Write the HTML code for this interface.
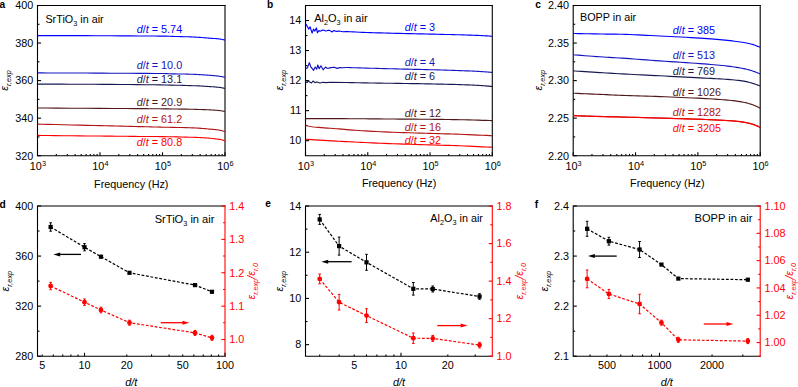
<!DOCTYPE html>
<html><head><meta charset="utf-8"><style>
html,body{margin:0;padding:0;background:#fff;}
body{width:798px;height:387px;overflow:hidden;}
svg{display:block;font-family:"Liberation Sans",sans-serif;}
</style></head><body>
<svg width="798" height="387" viewBox="0 0 798 387">
<rect width="798" height="387" fill="#fff"/>
<path d="M225,5.5 L37.5,5.5 L37.5,155.7 L225,155.7" fill="none" stroke="#000" stroke-width="1.1" stroke-linecap="square"/>
<line x1="225" y1="5.5" x2="225" y2="155.7" stroke="#000" stroke-width="1.1" stroke-linecap="square"/>
<line x1="37.5" y1="155.7" x2="41.1" y2="155.7" stroke="#000" stroke-width="1.1" />
<text x="33.2" y="159.5" font-size="10.8" fill="#000" text-anchor="end" >320</text>
<line x1="37.5" y1="118.15" x2="41.1" y2="118.15" stroke="#000" stroke-width="1.1" />
<text x="33.2" y="121.95" font-size="10.8" fill="#000" text-anchor="end" >340</text>
<line x1="37.5" y1="80.6" x2="41.1" y2="80.6" stroke="#000" stroke-width="1.1" />
<text x="33.2" y="84.4" font-size="10.8" fill="#000" text-anchor="end" >360</text>
<line x1="37.5" y1="43.05" x2="41.1" y2="43.05" stroke="#000" stroke-width="1.1" />
<text x="33.2" y="46.85" font-size="10.8" fill="#000" text-anchor="end" >380</text>
<line x1="37.5" y1="5.5" x2="41.1" y2="5.5" stroke="#000" stroke-width="1.1" />
<text x="33.2" y="9.3" font-size="10.8" fill="#000" text-anchor="end" >400</text>
<line x1="37.5" y1="136.92" x2="39.5" y2="136.92" stroke="#000" stroke-width="1.1" />
<line x1="37.5" y1="99.38" x2="39.5" y2="99.38" stroke="#000" stroke-width="1.1" />
<line x1="37.5" y1="61.82" x2="39.5" y2="61.82" stroke="#000" stroke-width="1.1" />
<line x1="37.5" y1="24.28" x2="39.5" y2="24.28" stroke="#000" stroke-width="1.1" />
<line x1="37.5" y1="155.7" x2="37.5" y2="152.3" stroke="#000" stroke-width="1.1" />
<line x1="100" y1="155.7" x2="100" y2="152.3" stroke="#000" stroke-width="1.1" />
<line x1="162.5" y1="155.7" x2="162.5" y2="152.3" stroke="#000" stroke-width="1.1" />
<line x1="225" y1="155.7" x2="225" y2="152.3" stroke="#000" stroke-width="1.1" />
<line x1="56.31" y1="155.7" x2="56.31" y2="153.9" stroke="#000" stroke-width="1.1" />
<line x1="67.32" y1="155.7" x2="67.32" y2="153.9" stroke="#000" stroke-width="1.1" />
<line x1="75.13" y1="155.7" x2="75.13" y2="153.9" stroke="#000" stroke-width="1.1" />
<line x1="81.19" y1="155.7" x2="81.19" y2="153.9" stroke="#000" stroke-width="1.1" />
<line x1="86.13" y1="155.7" x2="86.13" y2="153.9" stroke="#000" stroke-width="1.1" />
<line x1="90.32" y1="155.7" x2="90.32" y2="153.9" stroke="#000" stroke-width="1.1" />
<line x1="93.94" y1="155.7" x2="93.94" y2="153.9" stroke="#000" stroke-width="1.1" />
<line x1="97.14" y1="155.7" x2="97.14" y2="153.9" stroke="#000" stroke-width="1.1" />
<line x1="118.81" y1="155.7" x2="118.81" y2="153.9" stroke="#000" stroke-width="1.1" />
<line x1="129.82" y1="155.7" x2="129.82" y2="153.9" stroke="#000" stroke-width="1.1" />
<line x1="137.63" y1="155.7" x2="137.63" y2="153.9" stroke="#000" stroke-width="1.1" />
<line x1="143.69" y1="155.7" x2="143.69" y2="153.9" stroke="#000" stroke-width="1.1" />
<line x1="148.63" y1="155.7" x2="148.63" y2="153.9" stroke="#000" stroke-width="1.1" />
<line x1="152.82" y1="155.7" x2="152.82" y2="153.9" stroke="#000" stroke-width="1.1" />
<line x1="156.44" y1="155.7" x2="156.44" y2="153.9" stroke="#000" stroke-width="1.1" />
<line x1="159.64" y1="155.7" x2="159.64" y2="153.9" stroke="#000" stroke-width="1.1" />
<line x1="181.31" y1="155.7" x2="181.31" y2="153.9" stroke="#000" stroke-width="1.1" />
<line x1="192.32" y1="155.7" x2="192.32" y2="153.9" stroke="#000" stroke-width="1.1" />
<line x1="200.13" y1="155.7" x2="200.13" y2="153.9" stroke="#000" stroke-width="1.1" />
<line x1="206.19" y1="155.7" x2="206.19" y2="153.9" stroke="#000" stroke-width="1.1" />
<line x1="211.13" y1="155.7" x2="211.13" y2="153.9" stroke="#000" stroke-width="1.1" />
<line x1="215.32" y1="155.7" x2="215.32" y2="153.9" stroke="#000" stroke-width="1.1" />
<line x1="218.94" y1="155.7" x2="218.94" y2="153.9" stroke="#000" stroke-width="1.1" />
<line x1="222.14" y1="155.7" x2="222.14" y2="153.9" stroke="#000" stroke-width="1.1" />
<text x="37.9" y="170.2" font-size="10.8" text-anchor="middle">10<tspan font-size="7.3" dy="-4.6">3</tspan></text>
<text x="100.4" y="170.2" font-size="10.8" text-anchor="middle">10<tspan font-size="7.3" dy="-4.6">4</tspan></text>
<text x="162.9" y="170.2" font-size="10.8" text-anchor="middle">10<tspan font-size="7.3" dy="-4.6">5</tspan></text>
<text x="225.4" y="170.2" font-size="10.8" text-anchor="middle">10<tspan font-size="7.3" dy="-4.6">6</tspan></text>
<text x="131.25" y="187.5" font-size="10.8" fill="#000" text-anchor="middle" >Frequency (Hz)</text>
<text transform="translate(8.4,80.5) rotate(-90)" x="0" y="0" font-size="10.8" fill="#000" text-anchor="middle"><tspan font-style="italic">&#949;</tspan><tspan font-size="7.3" font-style="italic" dy="3.0">r,exp</tspan></text>
<text x="-0.6" y="7.6" font-size="10.2" font-weight="bold">a</text>
<text x="45.4" y="22.6" font-size="10.8">SrTiO<tspan font-size="7.3" dy="3.0">3</tspan><tspan dy="-3.0"> in air</tspan></text>
<path d="M37.5,35.6 L41.79,35.61 L47.43,35.61 L54.13,35.62 L61.62,35.63 L69.63,35.64 L77.88,35.65 L86.1,35.67 L94,35.7 L102.18,35.74 L111.14,35.78 L120.52,35.84 L129.91,35.89 L138.93,35.95 L147.21,36.01 L154.36,36.06 L160,36.1 L163.84,36.13 L166.13,36.15 L167.28,36.17 L167.69,36.18 L167.76,36.2 L167.9,36.22 L168.51,36.25 L170,36.3 L172.3,36.36 L175,36.43 L177.98,36.51 L181.12,36.59 L184.32,36.69 L187.44,36.79 L190.37,36.89 L193,37 L195.37,37.12 L197.62,37.25 L199.75,37.39 L201.78,37.54 L203.7,37.68 L205.54,37.83 L207.31,37.97 L209,38.1 L210.62,38.22 L212.15,38.33 L213.6,38.44 L214.96,38.55 L216.24,38.66 L217.44,38.77 L218.56,38.88 L219.6,39 L220.56,39.14 L221.44,39.29 L222.24,39.45 L222.96,39.61 L223.6,39.76 L224.15,39.9 L224.62,40.01 L225,40.1" fill="none" stroke="#0000ff" stroke-width="1.1" stroke-linejoin="round" />
<text x="136.8" y="32.9" font-size="10.8" fill="#0000ff"><tspan font-style="italic">d</tspan>/<tspan font-style="italic">t</tspan> = 5.74</text>
<path d="M37.5,72.9 L41.79,72.91 L47.43,72.93 L54.13,72.95 L61.62,72.97 L69.63,73 L77.88,73.03 L86.1,73.06 L94,73.1 L102.18,73.14 L111.14,73.19 L120.52,73.24 L129.91,73.29 L138.93,73.35 L147.21,73.4 L154.36,73.45 L160,73.5 L163.84,73.54 L166.13,73.58 L167.28,73.61 L167.69,73.64 L167.76,73.68 L167.9,73.71 L168.51,73.75 L170,73.8 L172.3,73.85 L175,73.9 L177.98,73.95 L181.12,74.01 L184.32,74.07 L187.44,74.14 L190.37,74.21 L193,74.3 L195.37,74.4 L197.62,74.51 L199.75,74.64 L201.78,74.77 L203.7,74.9 L205.54,75.04 L207.31,75.17 L209,75.3 L210.62,75.42 L212.15,75.55 L213.6,75.67 L214.96,75.8 L216.24,75.92 L217.44,76.05 L218.56,76.17 L219.6,76.3 L220.56,76.43 L221.44,76.57 L222.24,76.72 L222.96,76.86 L223.6,77 L224.15,77.12 L224.62,77.22 L225,77.3" fill="none" stroke="#1414c0" stroke-width="1.1" stroke-linejoin="round" />
<text x="136.8" y="68.9" font-size="10.8" fill="#1414c0"><tspan font-style="italic">d</tspan>/<tspan font-style="italic">t</tspan> = 10.0</text>
<path d="M37.5,84.1 L41.79,84.11 L47.43,84.13 L54.13,84.14 L61.62,84.16 L69.63,84.19 L77.88,84.22 L86.1,84.25 L94,84.3 L102.02,84.35 L110.61,84.42 L119.5,84.49 L128.47,84.56 L137.25,84.64 L145.6,84.73 L153.26,84.81 L160,84.9 L165.81,84.99 L170.95,85.08 L175.5,85.18 L179.56,85.28 L183.25,85.38 L186.65,85.49 L189.87,85.59 L193,85.7 L195.94,85.81 L198.55,85.92 L200.87,86.03 L202.96,86.15 L204.87,86.27 L206.65,86.38 L208.34,86.49 L210,86.6 L211.58,86.7 L213.02,86.8 L214.33,86.89 L215.52,86.99 L216.63,87.08 L217.67,87.18 L218.65,87.29 L219.6,87.4 L220.51,87.53 L221.37,87.68 L222.17,87.84 L222.9,88 L223.56,88.15 L224.13,88.3 L224.61,88.41 L225,88.5" fill="none" stroke="#181850" stroke-width="1.1" stroke-linejoin="round" />
<text x="136.8" y="82.7" font-size="10.8" fill="#181850"><tspan font-style="italic">d</tspan>/<tspan font-style="italic">t</tspan> = 13.1</text>
<path d="M37.5,108 L45.52,108.05 L56.72,108.12 L70.11,108.2 L84.69,108.29 L99.46,108.38 L113.44,108.46 L125.62,108.54 L135,108.6 L141.54,108.64 L146.16,108.67 L149.33,108.69 L151.53,108.71 L153.23,108.72 L154.89,108.74 L156.99,108.76 L160,108.8 L163.85,108.85 L168.06,108.9 L172.49,108.96 L177,109.02 L181.45,109.09 L185.69,109.16 L189.59,109.23 L193,109.3 L195.94,109.37 L198.55,109.44 L200.87,109.51 L202.96,109.59 L204.87,109.66 L206.65,109.74 L208.34,109.82 L210,109.9 L211.58,109.98 L213.02,110.06 L214.33,110.15 L215.52,110.23 L216.63,110.32 L217.67,110.41 L218.65,110.5 L219.6,110.6 L220.51,110.71 L221.37,110.83 L222.17,110.96 L222.9,111.09 L223.56,111.22 L224.13,111.33 L224.61,111.43 L225,111.5" fill="none" stroke="#501818" stroke-width="1.1" stroke-linejoin="round" />
<text x="136.8" y="105.6" font-size="10.8" fill="#501818"><tspan font-style="italic">d</tspan>/<tspan font-style="italic">t</tspan> = 20.9</text>
<path d="M37.5,124.1 L41.96,124.21 L48.02,124.36 L55.23,124.54 L63.19,124.74 L71.46,124.94 L79.64,125.15 L87.29,125.33 L94,125.5 L99.98,125.65 L105.71,125.79 L111.21,125.92 L116.47,126.05 L121.48,126.17 L126.24,126.29 L130.75,126.4 L135,126.5 L138.84,126.59 L142.19,126.67 L145.2,126.75 L148,126.81 L150.74,126.88 L153.56,126.95 L156.6,127.02 L160,127.1 L163.85,127.19 L168.06,127.28 L172.49,127.37 L177,127.46 L181.45,127.56 L185.69,127.67 L189.59,127.78 L193,127.9 L195.94,128.03 L198.55,128.17 L200.87,128.33 L202.96,128.48 L204.87,128.64 L206.65,128.8 L208.34,128.95 L210,129.1 L211.58,129.24 L213.02,129.38 L214.33,129.51 L215.52,129.64 L216.63,129.77 L217.67,129.91 L218.65,130.05 L219.6,130.2 L220.51,130.37 L221.37,130.56 L222.17,130.76 L222.9,130.97 L223.56,131.16 L224.13,131.34 L224.61,131.49 L225,131.6" fill="none" stroke="#b01414" stroke-width="1.1" stroke-linejoin="round" />
<text x="136.8" y="123.3" font-size="10.8" fill="#b01414"><tspan font-style="italic">d</tspan>/<tspan font-style="italic">t</tspan> = 61.2</text>
<path d="M37.5,135.4 L41.96,135.45 L48.02,135.51 L55.23,135.59 L63.19,135.68 L71.46,135.76 L79.64,135.85 L87.29,135.93 L94,136 L99.98,136.06 L105.71,136.12 L111.21,136.17 L116.47,136.22 L121.48,136.27 L126.24,136.32 L130.75,136.36 L135,136.4 L138.84,136.43 L142.19,136.45 L145.2,136.47 L148,136.48 L150.74,136.5 L153.56,136.52 L156.6,136.55 L160,136.6 L163.85,136.66 L168.06,136.73 L172.49,136.81 L177,136.9 L181.45,136.99 L185.69,137.09 L189.59,137.19 L193,137.3 L195.94,137.41 L198.55,137.53 L200.87,137.65 L202.96,137.78 L204.87,137.9 L206.65,138.04 L208.34,138.17 L210,138.3 L211.58,138.43 L213.02,138.56 L214.33,138.69 L215.52,138.83 L216.63,138.96 L217.67,139.1 L218.65,139.25 L219.6,139.4 L220.51,139.57 L221.37,139.76 L222.17,139.96 L222.9,140.17 L223.56,140.36 L224.13,140.54 L224.61,140.69 L225,140.8" fill="none" stroke="#ff0000" stroke-width="1.1" stroke-linejoin="round" />
<text x="136.8" y="146.0" font-size="10.8" fill="#ff0000"><tspan font-style="italic">d</tspan>/<tspan font-style="italic">t</tspan> = 80.8</text>
<path d="M492.3,5.5 L305.5,5.5 L305.5,155.7 L492.3,155.7" fill="none" stroke="#000" stroke-width="1.1" stroke-linecap="square"/>
<line x1="492.3" y1="5.5" x2="492.3" y2="155.7" stroke="#000" stroke-width="1.1" stroke-linecap="square"/>
<line x1="305.5" y1="140.68" x2="309.1" y2="140.68" stroke="#000" stroke-width="1.1" />
<text x="301.2" y="144.48" font-size="10.8" fill="#000" text-anchor="end" >10</text>
<line x1="305.5" y1="110.64" x2="309.1" y2="110.64" stroke="#000" stroke-width="1.1" />
<text x="301.2" y="114.44" font-size="10.8" fill="#000" text-anchor="end" >11</text>
<line x1="305.5" y1="80.6" x2="309.1" y2="80.6" stroke="#000" stroke-width="1.1" />
<text x="301.2" y="84.4" font-size="10.8" fill="#000" text-anchor="end" >12</text>
<line x1="305.5" y1="50.56" x2="309.1" y2="50.56" stroke="#000" stroke-width="1.1" />
<text x="301.2" y="54.36" font-size="10.8" fill="#000" text-anchor="end" >13</text>
<line x1="305.5" y1="20.52" x2="309.1" y2="20.52" stroke="#000" stroke-width="1.1" />
<text x="301.2" y="24.32" font-size="10.8" fill="#000" text-anchor="end" >14</text>
<line x1="305.5" y1="125.66" x2="307.5" y2="125.66" stroke="#000" stroke-width="1.1" />
<line x1="305.5" y1="95.62" x2="307.5" y2="95.62" stroke="#000" stroke-width="1.1" />
<line x1="305.5" y1="65.58" x2="307.5" y2="65.58" stroke="#000" stroke-width="1.1" />
<line x1="305.5" y1="35.54" x2="307.5" y2="35.54" stroke="#000" stroke-width="1.1" />
<line x1="305.5" y1="5.5" x2="307.5" y2="5.5" stroke="#000" stroke-width="1.1" />
<line x1="305.5" y1="155.7" x2="305.5" y2="152.3" stroke="#000" stroke-width="1.1" />
<line x1="367.77" y1="155.7" x2="367.77" y2="152.3" stroke="#000" stroke-width="1.1" />
<line x1="430.03" y1="155.7" x2="430.03" y2="152.3" stroke="#000" stroke-width="1.1" />
<line x1="492.3" y1="155.7" x2="492.3" y2="152.3" stroke="#000" stroke-width="1.1" />
<line x1="324.24" y1="155.7" x2="324.24" y2="153.9" stroke="#000" stroke-width="1.1" />
<line x1="335.21" y1="155.7" x2="335.21" y2="153.9" stroke="#000" stroke-width="1.1" />
<line x1="342.99" y1="155.7" x2="342.99" y2="153.9" stroke="#000" stroke-width="1.1" />
<line x1="349.02" y1="155.7" x2="349.02" y2="153.9" stroke="#000" stroke-width="1.1" />
<line x1="353.95" y1="155.7" x2="353.95" y2="153.9" stroke="#000" stroke-width="1.1" />
<line x1="358.12" y1="155.7" x2="358.12" y2="153.9" stroke="#000" stroke-width="1.1" />
<line x1="361.73" y1="155.7" x2="361.73" y2="153.9" stroke="#000" stroke-width="1.1" />
<line x1="364.92" y1="155.7" x2="364.92" y2="153.9" stroke="#000" stroke-width="1.1" />
<line x1="386.51" y1="155.7" x2="386.51" y2="153.9" stroke="#000" stroke-width="1.1" />
<line x1="397.48" y1="155.7" x2="397.48" y2="153.9" stroke="#000" stroke-width="1.1" />
<line x1="405.25" y1="155.7" x2="405.25" y2="153.9" stroke="#000" stroke-width="1.1" />
<line x1="411.29" y1="155.7" x2="411.29" y2="153.9" stroke="#000" stroke-width="1.1" />
<line x1="416.22" y1="155.7" x2="416.22" y2="153.9" stroke="#000" stroke-width="1.1" />
<line x1="420.39" y1="155.7" x2="420.39" y2="153.9" stroke="#000" stroke-width="1.1" />
<line x1="424" y1="155.7" x2="424" y2="153.9" stroke="#000" stroke-width="1.1" />
<line x1="427.18" y1="155.7" x2="427.18" y2="153.9" stroke="#000" stroke-width="1.1" />
<line x1="448.78" y1="155.7" x2="448.78" y2="153.9" stroke="#000" stroke-width="1.1" />
<line x1="459.74" y1="155.7" x2="459.74" y2="153.9" stroke="#000" stroke-width="1.1" />
<line x1="467.52" y1="155.7" x2="467.52" y2="153.9" stroke="#000" stroke-width="1.1" />
<line x1="473.56" y1="155.7" x2="473.56" y2="153.9" stroke="#000" stroke-width="1.1" />
<line x1="478.49" y1="155.7" x2="478.49" y2="153.9" stroke="#000" stroke-width="1.1" />
<line x1="482.65" y1="155.7" x2="482.65" y2="153.9" stroke="#000" stroke-width="1.1" />
<line x1="486.27" y1="155.7" x2="486.27" y2="153.9" stroke="#000" stroke-width="1.1" />
<line x1="489.45" y1="155.7" x2="489.45" y2="153.9" stroke="#000" stroke-width="1.1" />
<text x="305.9" y="170.2" font-size="10.8" text-anchor="middle">10<tspan font-size="7.3" dy="-4.6">3</tspan></text>
<text x="368.17" y="170.2" font-size="10.8" text-anchor="middle">10<tspan font-size="7.3" dy="-4.6">4</tspan></text>
<text x="430.43" y="170.2" font-size="10.8" text-anchor="middle">10<tspan font-size="7.3" dy="-4.6">5</tspan></text>
<text x="492.7" y="170.2" font-size="10.8" text-anchor="middle">10<tspan font-size="7.3" dy="-4.6">6</tspan></text>
<text x="399.1" y="186.5" font-size="10.8" fill="#000" text-anchor="middle" >Frequency (Hz)</text>
<text transform="translate(283.4,80.2) rotate(-90)" x="0" y="0" font-size="10.8" fill="#000" text-anchor="middle"><tspan font-style="italic">&#949;</tspan><tspan font-size="7.3" font-style="italic" dy="3.0">r,exp</tspan></text>
<text x="267.1" y="7.6" font-size="10.2" font-weight="bold">b</text>
<text x="314.2" y="21.8" font-size="11.0">Al<tspan font-size="7.3" dy="3.0">2</tspan><tspan dy="-3.0">O</tspan><tspan font-size="7.3" dy="3.0">3</tspan><tspan dy="-3.0"> in air</tspan></text>
<path d="M305.6,24 L306.1,24.3 L307.3,26.5 L308.7,29.1 L310.1,26.8 L312.1,33.1 L313.5,29.1 L314.9,31.1 L316.4,28 L317.5,32.8 L318.9,30.5 L320.2,31.2 L321.2,30.8 L322.5,30 L324,30.2 L325.5,31 L326.9,30.8 L328.3,30.2 L329.7,30.4 L332,32 L334,30.4 L335.5,31.2 L337.1,31.4 L339,31 L342.8,31.7 L346,31.6 L347.81,31.68 L350.17,31.78 L352.98,31.91 L356.12,32.05 L359.51,32.2 L363.02,32.34 L366.55,32.48 L370,32.6 L373.46,32.71 L377.08,32.82 L380.81,32.92 L384.62,33.02 L388.49,33.12 L392.36,33.21 L396.21,33.31 L400,33.4 L403.75,33.49 L407.5,33.58 L411.25,33.67 L415,33.76 L418.75,33.84 L422.5,33.93 L426.25,34.01 L430,34.1 L433.82,34.19 L437.73,34.27 L441.69,34.36 L445.62,34.45 L449.48,34.54 L453.2,34.62 L456.73,34.71 L460,34.8 L463.03,34.89 L465.88,34.97 L468.57,35.06 L471.11,35.14 L473.5,35.23 L475.78,35.32 L477.94,35.41 L480,35.5 L481.99,35.6 L483.9,35.71 L485.72,35.83 L487.4,35.94 L488.93,36.05 L490.27,36.15 L491.4,36.24 L492.3,36.3" fill="none" stroke="#0000ff" stroke-width="1.15" stroke-linejoin="round" />
<text x="404.7" y="30.5" font-size="10.8" fill="#0000ff"><tspan font-style="italic">d</tspan>/<tspan font-style="italic">t</tspan> = 3</text>
<path d="M305.6,68.1 L307.3,68.1 L309.3,62.7 L311,67.2 L312.2,68.5 L313.5,70.4 L315.2,67 L316.7,69.2 L317.8,65 L319.2,68.7 L320.9,65.8 L323.2,69.8 L325.5,67 L327,68.3 L328.6,68.1 L331,67.6 L334.3,67.2 L337.1,68.4 L340,67.6 L343,67.8 L346,67.5 L347.81,67.55 L350.17,67.62 L352.98,67.71 L356.12,67.8 L359.51,67.9 L363.02,68 L366.55,68.1 L370,68.2 L373.46,68.3 L377.08,68.4 L380.81,68.5 L384.62,68.6 L388.49,68.7 L392.36,68.8 L396.21,68.9 L400,69 L403.75,69.09 L407.5,69.18 L411.25,69.26 L415,69.34 L418.75,69.43 L422.5,69.51 L426.25,69.6 L430,69.7 L433.82,69.8 L437.73,69.91 L441.69,70.02 L445.62,70.14 L449.48,70.25 L453.2,70.37 L456.73,70.49 L460,70.6 L463.03,70.71 L465.88,70.82 L468.57,70.94 L471.11,71.05 L473.5,71.16 L475.78,71.27 L477.94,71.39 L480,71.5 L481.99,71.62 L483.9,71.75 L485.72,71.88 L487.4,72.01 L488.93,72.13 L490.27,72.24 L491.4,72.33 L492.3,72.4" fill="none" stroke="#1414c0" stroke-width="1.15" stroke-linejoin="round" />
<text x="404.7" y="66.0" font-size="10.8" fill="#1414c0"><tspan font-style="italic">d</tspan>/<tspan font-style="italic">t</tspan> = 4</text>
<path d="M305.6,81.5 L307,82.6 L308.5,80.8 L310,82.3 L311.5,83 L313,81 L315,82.6 L317,82 L320,83 L323,82.2 L326,82.6 L330,82.3 L346,82.5 L347.81,82.54 L350.17,82.59 L352.98,82.66 L356.12,82.73 L359.51,82.8 L363.02,82.87 L366.55,82.94 L370,83 L373.46,83.05 L377.08,83.1 L380.81,83.15 L384.62,83.2 L388.49,83.25 L392.36,83.3 L396.21,83.35 L400,83.4 L403.75,83.46 L407.5,83.51 L411.25,83.57 L415,83.63 L418.75,83.69 L422.5,83.76 L426.25,83.83 L430,83.9 L433.82,83.98 L437.73,84.06 L441.69,84.14 L445.62,84.22 L449.48,84.31 L453.2,84.41 L456.73,84.5 L460,84.6 L463.03,84.7 L465.88,84.81 L468.57,84.92 L471.11,85.03 L473.5,85.15 L475.78,85.26 L477.94,85.38 L480,85.5 L481.99,85.63 L483.9,85.77 L485.72,85.91 L487.4,86.06 L488.93,86.19 L490.27,86.32 L491.4,86.42 L492.3,86.5" fill="none" stroke="#181850" stroke-width="1.15" stroke-linejoin="round" />
<text x="404.7" y="80.4" font-size="10.8" fill="#181850"><tspan font-style="italic">d</tspan>/<tspan font-style="italic">t</tspan> = 6</text>
<path d="M305.5,118.6 L308.97,118.61 L313.62,118.61 L319.17,118.62 L325.31,118.63 L331.76,118.64 L338.22,118.66 L344.4,118.68 L350,118.7 L355.12,118.73 L360.09,118.76 L364.94,118.8 L369.72,118.84 L374.47,118.88 L379.24,118.92 L384.07,118.96 L389,119 L394.1,119.04 L399.37,119.07 L404.71,119.11 L410.06,119.14 L415.34,119.18 L420.48,119.22 L425.39,119.26 L430,119.3 L434.26,119.34 L438.22,119.38 L441.95,119.42 L445.54,119.46 L449.06,119.51 L452.6,119.56 L456.22,119.63 L460,119.7 L464.15,119.79 L468.67,119.91 L473.36,120.04 L478.02,120.18 L482.45,120.31 L486.44,120.43 L489.79,120.53 L492.3,120.6" fill="none" stroke="#501818" stroke-width="1.15" stroke-linejoin="round" />
<text x="404.7" y="116.7" font-size="10.8" fill="#501818"><tspan font-style="italic">d</tspan>/<tspan font-style="italic">t</tspan> = 12</text>
<path d="M305.5,125.2 L306.06,125.34 L306.7,125.53 L307.46,125.75 L308.36,125.99 L309.43,126.25 L310.71,126.51 L312.22,126.77 L314,127 L316.13,127.22 L318.6,127.43 L321.35,127.64 L324.29,127.85 L327.33,128.06 L330.4,128.27 L333.42,128.48 L336.3,128.7 L339.03,128.92 L341.69,129.15 L344.31,129.38 L346.94,129.61 L349.64,129.84 L352.46,130.06 L355.42,130.28 L358.6,130.5 L361.94,130.71 L365.38,130.92 L368.94,131.13 L372.63,131.33 L376.47,131.53 L380.46,131.73 L384.64,131.92 L389,132.1 L393.69,132.28 L398.76,132.46 L404.08,132.63 L409.52,132.79 L414.96,132.95 L420.28,133.11 L425.33,133.26 L430,133.4 L434.26,133.53 L438.22,133.64 L441.95,133.74 L445.54,133.84 L449.06,133.94 L452.6,134.05 L456.22,134.17 L460,134.3 L464.15,134.46 L468.67,134.65 L473.36,134.85 L478.02,135.06 L482.45,135.26 L486.44,135.44 L489.79,135.59 L492.3,135.7" fill="none" stroke="#b01414" stroke-width="1.15" stroke-linejoin="round" />
<text x="404.7" y="131.0" font-size="10.8" fill="#b01414"><tspan font-style="italic">d</tspan>/<tspan font-style="italic">t</tspan> = 16</text>
<path d="M305.5,139.2 L307.91,139.35 L311.18,139.56 L315.08,139.81 L319.38,140.08 L323.84,140.36 L328.26,140.64 L332.39,140.89 L336,141.1 L339.1,141.27 L341.89,141.42 L344.48,141.56 L346.97,141.68 L349.46,141.8 L352.07,141.92 L354.88,142.05 L358,142.2 L361.38,142.36 L364.88,142.53 L368.53,142.71 L372.31,142.89 L376.25,143.07 L380.34,143.25 L384.58,143.43 L389,143.6 L393.72,143.77 L398.8,143.94 L404.13,144.11 L409.56,144.28 L414.99,144.45 L420.29,144.61 L425.33,144.76 L430,144.9 L434.26,145.03 L438.22,145.14 L441.95,145.24 L445.54,145.34 L449.06,145.44 L452.6,145.54 L456.22,145.66 L460,145.8 L464.15,145.97 L468.67,146.17 L473.36,146.38 L478.02,146.61 L482.45,146.82 L486.44,147.02 L489.79,147.18 L492.3,147.3" fill="none" stroke="#ff0000" stroke-width="1.15" stroke-linejoin="round" />
<text x="404.7" y="143.9" font-size="10.8" fill="#ff0000"><tspan font-style="italic">d</tspan>/<tspan font-style="italic">t</tspan> = 32</text>
<path d="M760.2,5.5 L573.2,5.5 L573.2,155.7 L760.2,155.7" fill="none" stroke="#000" stroke-width="1.1" stroke-linecap="square"/>
<line x1="760.2" y1="5.5" x2="760.2" y2="155.7" stroke="#000" stroke-width="1.1" stroke-linecap="square"/>
<line x1="573.2" y1="155.7" x2="576.8" y2="155.7" stroke="#000" stroke-width="1.1" />
<text x="568.9" y="159.5" font-size="10.8" fill="#000" text-anchor="end" >2.20</text>
<line x1="573.2" y1="118.15" x2="576.8" y2="118.15" stroke="#000" stroke-width="1.1" />
<text x="568.9" y="121.95" font-size="10.8" fill="#000" text-anchor="end" >2.25</text>
<line x1="573.2" y1="80.6" x2="576.8" y2="80.6" stroke="#000" stroke-width="1.1" />
<text x="568.9" y="84.4" font-size="10.8" fill="#000" text-anchor="end" >2.30</text>
<line x1="573.2" y1="43.05" x2="576.8" y2="43.05" stroke="#000" stroke-width="1.1" />
<text x="568.9" y="46.85" font-size="10.8" fill="#000" text-anchor="end" >2.35</text>
<line x1="573.2" y1="5.5" x2="576.8" y2="5.5" stroke="#000" stroke-width="1.1" />
<text x="568.9" y="9.3" font-size="10.8" fill="#000" text-anchor="end" >2.40</text>
<line x1="573.2" y1="136.93" x2="575.2" y2="136.93" stroke="#000" stroke-width="1.1" />
<line x1="573.2" y1="99.38" x2="575.2" y2="99.38" stroke="#000" stroke-width="1.1" />
<line x1="573.2" y1="61.82" x2="575.2" y2="61.82" stroke="#000" stroke-width="1.1" />
<line x1="573.2" y1="24.27" x2="575.2" y2="24.27" stroke="#000" stroke-width="1.1" />
<line x1="573.2" y1="155.7" x2="573.2" y2="152.3" stroke="#000" stroke-width="1.1" />
<line x1="635.53" y1="155.7" x2="635.53" y2="152.3" stroke="#000" stroke-width="1.1" />
<line x1="697.87" y1="155.7" x2="697.87" y2="152.3" stroke="#000" stroke-width="1.1" />
<line x1="760.2" y1="155.7" x2="760.2" y2="152.3" stroke="#000" stroke-width="1.1" />
<line x1="591.96" y1="155.7" x2="591.96" y2="153.9" stroke="#000" stroke-width="1.1" />
<line x1="602.94" y1="155.7" x2="602.94" y2="153.9" stroke="#000" stroke-width="1.1" />
<line x1="610.73" y1="155.7" x2="610.73" y2="153.9" stroke="#000" stroke-width="1.1" />
<line x1="616.77" y1="155.7" x2="616.77" y2="153.9" stroke="#000" stroke-width="1.1" />
<line x1="621.7" y1="155.7" x2="621.7" y2="153.9" stroke="#000" stroke-width="1.1" />
<line x1="625.88" y1="155.7" x2="625.88" y2="153.9" stroke="#000" stroke-width="1.1" />
<line x1="629.49" y1="155.7" x2="629.49" y2="153.9" stroke="#000" stroke-width="1.1" />
<line x1="632.68" y1="155.7" x2="632.68" y2="153.9" stroke="#000" stroke-width="1.1" />
<line x1="654.3" y1="155.7" x2="654.3" y2="153.9" stroke="#000" stroke-width="1.1" />
<line x1="665.27" y1="155.7" x2="665.27" y2="153.9" stroke="#000" stroke-width="1.1" />
<line x1="673.06" y1="155.7" x2="673.06" y2="153.9" stroke="#000" stroke-width="1.1" />
<line x1="679.1" y1="155.7" x2="679.1" y2="153.9" stroke="#000" stroke-width="1.1" />
<line x1="684.04" y1="155.7" x2="684.04" y2="153.9" stroke="#000" stroke-width="1.1" />
<line x1="688.21" y1="155.7" x2="688.21" y2="153.9" stroke="#000" stroke-width="1.1" />
<line x1="691.83" y1="155.7" x2="691.83" y2="153.9" stroke="#000" stroke-width="1.1" />
<line x1="695.01" y1="155.7" x2="695.01" y2="153.9" stroke="#000" stroke-width="1.1" />
<line x1="716.63" y1="155.7" x2="716.63" y2="153.9" stroke="#000" stroke-width="1.1" />
<line x1="727.61" y1="155.7" x2="727.61" y2="153.9" stroke="#000" stroke-width="1.1" />
<line x1="735.4" y1="155.7" x2="735.4" y2="153.9" stroke="#000" stroke-width="1.1" />
<line x1="741.44" y1="155.7" x2="741.44" y2="153.9" stroke="#000" stroke-width="1.1" />
<line x1="746.37" y1="155.7" x2="746.37" y2="153.9" stroke="#000" stroke-width="1.1" />
<line x1="750.54" y1="155.7" x2="750.54" y2="153.9" stroke="#000" stroke-width="1.1" />
<line x1="754.16" y1="155.7" x2="754.16" y2="153.9" stroke="#000" stroke-width="1.1" />
<line x1="757.35" y1="155.7" x2="757.35" y2="153.9" stroke="#000" stroke-width="1.1" />
<text x="573.6" y="170.2" font-size="10.8" text-anchor="middle">10<tspan font-size="7.3" dy="-4.6">3</tspan></text>
<text x="635.93" y="170.2" font-size="10.8" text-anchor="middle">10<tspan font-size="7.3" dy="-4.6">4</tspan></text>
<text x="698.27" y="170.2" font-size="10.8" text-anchor="middle">10<tspan font-size="7.3" dy="-4.6">5</tspan></text>
<text x="760.6" y="170.2" font-size="10.8" text-anchor="middle">10<tspan font-size="7.3" dy="-4.6">6</tspan></text>
<text x="667.3" y="186.5" font-size="10.8" fill="#000" text-anchor="middle" >Frequency (Hz)</text>
<text transform="translate(542.2,80.2) rotate(-90)" x="0" y="0" font-size="10.8" fill="#000" text-anchor="middle"><tspan font-style="italic">&#949;</tspan><tspan font-size="7.3" font-style="italic" dy="3.0">r,exp</tspan></text>
<text x="535.2" y="7.8" font-size="10.2" font-weight="bold">c</text>
<text x="580" y="21.4" font-size="10.8" fill="#000" text-anchor="start" >BOPP in air</text>
<path d="M573.2,33.5 L575.27,33.54 L578.03,33.59 L581.32,33.66 L584.98,33.73 L588.83,33.8 L592.73,33.87 L596.51,33.94 L600,34 L603.23,34.05 L606.37,34.08 L609.46,34.1 L612.55,34.13 L615.7,34.17 L618.96,34.22 L622.37,34.29 L626,34.4 L629.83,34.54 L633.8,34.7 L637.9,34.89 L642.12,35.09 L646.46,35.31 L650.89,35.54 L655.41,35.77 L660,36 L664.82,36.24 L669.93,36.49 L675.22,36.76 L680.56,37.02 L685.83,37.3 L690.91,37.57 L695.68,37.84 L700,38.1 L703.9,38.35 L707.49,38.6 L710.83,38.85 L713.94,39.09 L716.87,39.34 L719.66,39.59 L722.36,39.84 L725,40.1 L727.56,40.37 L729.98,40.64 L732.27,40.92 L734.44,41.2 L736.49,41.48 L738.43,41.76 L740.26,42.03 L742,42.3 L743.6,42.55 L745.03,42.79 L746.34,43.02 L747.55,43.25 L748.69,43.49 L749.79,43.73 L750.88,44 L752,44.3 L753.17,44.65 L754.37,45.05 L755.57,45.48 L756.73,45.92 L757.8,46.35 L758.77,46.74 L759.58,47.06 L760.2,47.3" fill="none" stroke="#0000ff" stroke-width="1.15" stroke-linejoin="round" />
<text x="672.7" y="34.3" font-size="10.8" fill="#0000ff"><tspan font-style="italic">d</tspan>/<tspan font-style="italic">t</tspan> = 385</text>
<path d="M573.2,54.8 L575.27,54.96 L578.03,55.17 L581.32,55.42 L584.98,55.7 L588.83,55.99 L592.73,56.28 L596.51,56.56 L600,56.8 L603.23,57.01 L606.37,57.21 L609.46,57.39 L612.55,57.57 L615.7,57.75 L618.96,57.95 L622.37,58.16 L626,58.4 L629.83,58.67 L633.8,58.96 L637.9,59.26 L642.12,59.58 L646.46,59.91 L650.89,60.24 L655.41,60.57 L660,60.9 L664.82,61.23 L669.93,61.57 L675.22,61.92 L680.56,62.27 L685.83,62.62 L690.91,62.96 L695.68,63.29 L700,63.6 L703.9,63.9 L707.49,64.18 L710.83,64.45 L713.94,64.71 L716.87,64.97 L719.66,65.24 L722.36,65.51 L725,65.8 L727.56,66.1 L729.98,66.4 L732.27,66.72 L734.44,67.03 L736.49,67.35 L738.43,67.67 L740.26,67.99 L742,68.3 L743.6,68.61 L745.03,68.91 L746.34,69.21 L747.55,69.51 L748.69,69.82 L749.79,70.13 L750.88,70.46 L752,70.8 L753.17,71.18 L754.37,71.61 L755.57,72.05 L756.73,72.51 L757.8,72.94 L758.77,73.33 L759.58,73.66 L760.2,73.9" fill="none" stroke="#1414c0" stroke-width="1.15" stroke-linejoin="round" />
<text x="672.7" y="59.0" font-size="10.8" fill="#1414c0"><tspan font-style="italic">d</tspan>/<tspan font-style="italic">t</tspan> = 513</text>
<path d="M573.2,70.9 L575.27,71.03 L578.03,71.21 L581.32,71.42 L584.98,71.66 L588.83,71.9 L592.73,72.15 L596.51,72.39 L600,72.6 L603.23,72.8 L606.37,72.98 L609.46,73.17 L612.55,73.35 L615.7,73.53 L618.96,73.72 L622.37,73.9 L626,74.1 L629.83,74.3 L633.8,74.5 L637.9,74.71 L642.12,74.91 L646.46,75.12 L650.89,75.34 L655.41,75.57 L660,75.8 L664.82,76.05 L669.93,76.32 L675.22,76.59 L680.56,76.88 L685.83,77.15 L690.91,77.42 L695.68,77.67 L700,77.9 L703.9,78.1 L707.49,78.27 L710.83,78.43 L713.94,78.58 L716.87,78.72 L719.66,78.87 L722.36,79.02 L725,79.2 L727.56,79.39 L729.98,79.59 L732.27,79.79 L734.44,79.99 L736.49,80.21 L738.43,80.43 L740.26,80.66 L742,80.9 L743.6,81.15 L745.03,81.4 L746.34,81.66 L747.55,81.92 L748.69,82.2 L749.79,82.49 L750.88,82.79 L752,83.1 L753.17,83.45 L754.37,83.84 L755.57,84.26 L756.73,84.69 L757.8,85.09 L758.77,85.46 L759.58,85.77 L760.2,86" fill="none" stroke="#181850" stroke-width="1.15" stroke-linejoin="round" />
<text x="672.7" y="75.2" font-size="10.8" fill="#181850"><tspan font-style="italic">d</tspan>/<tspan font-style="italic">t</tspan> = 769</text>
<path d="M573.2,93.2 L575.27,93.29 L578.03,93.42 L581.32,93.57 L584.98,93.73 L588.83,93.9 L592.73,94.08 L596.51,94.25 L600,94.4 L603.23,94.54 L606.37,94.68 L609.46,94.82 L612.55,94.96 L615.7,95.09 L618.96,95.23 L622.37,95.36 L626,95.5 L629.81,95.63 L633.75,95.76 L637.81,95.88 L642,96.01 L646.31,96.14 L650.75,96.28 L655.31,96.43 L660,96.6 L665,96.79 L670.38,97.01 L676,97.24 L681.69,97.47 L687.29,97.72 L692.65,97.95 L697.6,98.18 L702,98.4 L705.84,98.6 L709.27,98.79 L712.37,98.98 L715.19,99.16 L717.8,99.34 L720.26,99.52 L722.64,99.7 L725,99.9 L727.28,100.09 L729.38,100.28 L731.34,100.47 L733.19,100.66 L734.95,100.87 L736.65,101.09 L738.32,101.33 L740,101.6 L741.67,101.9 L743.3,102.22 L744.89,102.56 L746.43,102.92 L747.91,103.3 L749.34,103.69 L750.7,104.09 L752,104.5 L753.26,104.95 L754.51,105.46 L755.71,105.99 L756.85,106.53 L757.89,107.05 L758.82,107.52 L759.59,107.91 L760.2,108.2" fill="none" stroke="#501818" stroke-width="1.15" stroke-linejoin="round" />
<text x="672.7" y="95.6" font-size="10.8" fill="#501818"><tspan font-style="italic">d</tspan>/<tspan font-style="italic">t</tspan> = 1026</text>
<path d="M573.2,114.8 L573.36,114.86 L573.43,114.94 L573.5,115.04 L573.66,115.15 L574,115.26 L574.61,115.38 L575.58,115.49 L577,115.6 L578.94,115.7 L581.33,115.8 L584.09,115.9 L587.11,116.01 L590.31,116.11 L593.59,116.21 L596.85,116.3 L600,116.4 L603.05,116.49 L606.1,116.58 L609.18,116.66 L612.31,116.74 L615.53,116.83 L618.87,116.91 L622.35,117 L626,117.1 L629.81,117.2 L633.75,117.3 L637.81,117.41 L642,117.51 L646.31,117.62 L650.75,117.74 L655.31,117.87 L660,118 L665,118.14 L670.38,118.3 L676,118.47 L681.69,118.64 L687.29,118.81 L692.65,118.98 L697.6,119.14 L702,119.3 L705.84,119.45 L709.27,119.59 L712.37,119.72 L715.19,119.86 L717.8,119.99 L720.26,120.12 L722.64,120.26 L725,120.4 L727.28,120.54 L729.38,120.66 L731.34,120.79 L733.19,120.92 L734.95,121.06 L736.65,121.21 L738.32,121.39 L740,121.6 L741.67,121.84 L743.3,122.09 L744.89,122.37 L746.43,122.67 L747.91,122.98 L749.34,123.31 L750.7,123.65 L752,124 L753.26,124.39 L754.51,124.84 L755.71,125.32 L756.85,125.8 L757.89,126.26 L758.82,126.69 L759.59,127.04 L760.2,127.3" fill="none" stroke="#b01414" stroke-width="1.15" stroke-linejoin="round" />
<text x="672.7" y="115.7" font-size="10.8" fill="#b01414"><tspan font-style="italic">d</tspan>/<tspan font-style="italic">t</tspan> = 1282</text>
<path d="M573.2,116 L573.36,116 L573.43,115.99 L573.5,115.97 L573.66,115.96 L574,115.96 L574.61,115.96 L575.58,115.97 L577,116 L578.94,116.05 L581.33,116.11 L584.09,116.18 L587.11,116.26 L590.31,116.35 L593.59,116.44 L596.85,116.52 L600,116.6 L603.05,116.67 L606.1,116.74 L609.18,116.81 L612.31,116.88 L615.53,116.95 L618.87,117.03 L622.35,117.11 L626,117.2 L629.81,117.3 L633.75,117.39 L637.81,117.5 L642,117.61 L646.31,117.72 L650.75,117.84 L655.31,117.97 L660,118.1 L665,118.24 L670.38,118.4 L676,118.57 L681.69,118.74 L687.29,118.91 L692.65,119.08 L697.6,119.24 L702,119.4 L705.84,119.55 L709.27,119.69 L712.37,119.82 L715.19,119.96 L717.8,120.09 L720.26,120.22 L722.64,120.36 L725,120.5 L727.28,120.64 L729.38,120.76 L731.34,120.89 L733.19,121.02 L734.95,121.16 L736.65,121.31 L738.32,121.49 L740,121.7 L741.67,121.94 L743.3,122.19 L744.89,122.47 L746.43,122.77 L747.91,123.08 L749.34,123.41 L750.7,123.75 L752,124.1 L753.26,124.49 L754.51,124.94 L755.71,125.42 L756.85,125.9 L757.89,126.36 L758.82,126.79 L759.59,127.14 L760.2,127.4" fill="none" stroke="#ff0000" stroke-width="1.15" stroke-linejoin="round" />
<text x="672.7" y="132.3" font-size="10.8" fill="#ff0000"><tspan font-style="italic">d</tspan>/<tspan font-style="italic">t</tspan> = 3205</text>
<path d="M225,206 L37.5,206 L37.5,356.2 L225,356.2" fill="none" stroke="#000" stroke-width="1.1" stroke-linecap="square"/>
<line x1="225" y1="206" x2="225" y2="356.2" stroke="#ff0000" stroke-width="1.1" stroke-linecap="square"/>
<line x1="37.5" y1="356.2" x2="41.1" y2="356.2" stroke="#000" stroke-width="1.1" />
<text x="33.2" y="360" font-size="10.8" fill="#000" text-anchor="end" >280</text>
<line x1="37.5" y1="306.13" x2="41.1" y2="306.13" stroke="#000" stroke-width="1.1" />
<text x="33.2" y="309.93" font-size="10.8" fill="#000" text-anchor="end" >320</text>
<line x1="37.5" y1="256.07" x2="41.1" y2="256.07" stroke="#000" stroke-width="1.1" />
<text x="33.2" y="259.87" font-size="10.8" fill="#000" text-anchor="end" >360</text>
<line x1="37.5" y1="206" x2="41.1" y2="206" stroke="#000" stroke-width="1.1" />
<text x="33.2" y="209.8" font-size="10.8" fill="#000" text-anchor="end" >400</text>
<line x1="37.5" y1="331.17" x2="39.5" y2="331.17" stroke="#000" stroke-width="1.1" />
<line x1="37.5" y1="281.1" x2="39.5" y2="281.1" stroke="#000" stroke-width="1.1" />
<line x1="37.5" y1="231.03" x2="39.5" y2="231.03" stroke="#000" stroke-width="1.1" />
<line x1="221.4" y1="339.51" x2="225" y2="339.51" stroke="#ff0000" stroke-width="1.1" />
<text x="229.3" y="343.31" font-size="10.8" fill="#ff0000" text-anchor="start" >1.0</text>
<line x1="221.4" y1="306.13" x2="225" y2="306.13" stroke="#ff0000" stroke-width="1.1" />
<text x="229.3" y="309.93" font-size="10.8" fill="#ff0000" text-anchor="start" >1.1</text>
<line x1="221.4" y1="272.76" x2="225" y2="272.76" stroke="#ff0000" stroke-width="1.1" />
<text x="229.3" y="276.56" font-size="10.8" fill="#ff0000" text-anchor="start" >1.2</text>
<line x1="221.4" y1="239.38" x2="225" y2="239.38" stroke="#ff0000" stroke-width="1.1" />
<text x="229.3" y="243.18" font-size="10.8" fill="#ff0000" text-anchor="start" >1.3</text>
<line x1="221.4" y1="206" x2="225" y2="206" stroke="#ff0000" stroke-width="1.1" />
<text x="229.3" y="209.8" font-size="10.8" fill="#ff0000" text-anchor="start" >1.4</text>
<line x1="223" y1="322.82" x2="225" y2="322.82" stroke="#ff0000" stroke-width="1.1" />
<line x1="223" y1="289.44" x2="225" y2="289.44" stroke="#ff0000" stroke-width="1.1" />
<line x1="223" y1="256.07" x2="225" y2="256.07" stroke="#ff0000" stroke-width="1.1" />
<line x1="223" y1="222.69" x2="225" y2="222.69" stroke="#ff0000" stroke-width="1.1" />
<line x1="84.5" y1="356.2" x2="84.5" y2="352.8" stroke="#000" stroke-width="1.1" />
<line x1="225" y1="356.2" x2="225" y2="352.8" stroke="#000" stroke-width="1.1" />
<line x1="42.21" y1="356.2" x2="42.21" y2="354.4" stroke="#000" stroke-width="1.1" />
<line x1="53.33" y1="356.2" x2="53.33" y2="354.4" stroke="#000" stroke-width="1.1" />
<line x1="62.74" y1="356.2" x2="62.74" y2="354.4" stroke="#000" stroke-width="1.1" />
<line x1="70.88" y1="356.2" x2="70.88" y2="354.4" stroke="#000" stroke-width="1.1" />
<line x1="78.07" y1="356.2" x2="78.07" y2="354.4" stroke="#000" stroke-width="1.1" />
<line x1="126.79" y1="356.2" x2="126.79" y2="354.4" stroke="#000" stroke-width="1.1" />
<line x1="151.54" y1="356.2" x2="151.54" y2="354.4" stroke="#000" stroke-width="1.1" />
<line x1="169.09" y1="356.2" x2="169.09" y2="354.4" stroke="#000" stroke-width="1.1" />
<line x1="182.71" y1="356.2" x2="182.71" y2="354.4" stroke="#000" stroke-width="1.1" />
<line x1="193.83" y1="356.2" x2="193.83" y2="354.4" stroke="#000" stroke-width="1.1" />
<line x1="203.24" y1="356.2" x2="203.24" y2="354.4" stroke="#000" stroke-width="1.1" />
<line x1="211.38" y1="356.2" x2="211.38" y2="354.4" stroke="#000" stroke-width="1.1" />
<line x1="218.57" y1="356.2" x2="218.57" y2="354.4" stroke="#000" stroke-width="1.1" />
<text x="42.21" y="368.6" font-size="10.8" fill="#000" text-anchor="middle" >5</text>
<text x="84.5" y="368.6" font-size="10.8" fill="#000" text-anchor="middle" >10</text>
<text x="126.79" y="368.6" font-size="10.8" fill="#000" text-anchor="middle" >20</text>
<text x="182.71" y="368.6" font-size="10.8" fill="#000" text-anchor="middle" >50</text>
<text x="225" y="368.6" font-size="10.8" fill="#000" text-anchor="middle" >100</text>
<text x="131.25" y="386.4" font-size="10.8" font-style="italic" text-anchor="middle">d/t</text>
<text transform="translate(8.6,281.2) rotate(-90)" x="0" y="0" font-size="10.8" fill="#000" text-anchor="middle"><tspan font-style="italic">&#949;</tspan><tspan font-size="7.3" font-style="italic" dy="3.0">r,exp</tspan></text>
<text transform="translate(254.9,281.2) rotate(-90)" x="0" y="0" font-size="10.8" fill="#ff0000" text-anchor="middle"><tspan font-style="italic">&#949;</tspan><tspan font-size="7.3" font-style="italic" dy="3.0">r,exp</tspan><tspan dy="-3.0" font-style="italic">/&#949;</tspan><tspan font-size="7.3" font-style="italic" dy="3.0">r,0</tspan></text>
<text x="-0.4" y="208" font-size="10.2" font-weight="bold">d</text>
<text x="154.7" y="222.6" font-size="11.1">SrTiO<tspan font-size="7.3" dy="3.0">3</tspan><tspan dy="-3.0"> in air</tspan></text>
<path d="M50.63,286 L84.5,302.2 L100.98,310 L129.48,322.7 L195.04,332.9 L211.99,337.8" fill="none" stroke="#ff0000" stroke-width="1.2" stroke-linejoin="round" stroke-dasharray="2.8,1.7"/>
<line x1="50.63" y1="282.3" x2="50.63" y2="289.7" stroke="#ff0000" stroke-width="1.0" />
<line x1="49.33" y1="282.3" x2="51.93" y2="282.3" stroke="#ff0000" stroke-width="1.0" />
<line x1="49.33" y1="289.7" x2="51.93" y2="289.7" stroke="#ff0000" stroke-width="1.0" />
<circle cx="50.63" cy="286" r="2.4" fill="#ff0000"/>
<line x1="84.5" y1="299" x2="84.5" y2="305.4" stroke="#ff0000" stroke-width="1.0" />
<line x1="83.2" y1="299" x2="85.8" y2="299" stroke="#ff0000" stroke-width="1.0" />
<line x1="83.2" y1="305.4" x2="85.8" y2="305.4" stroke="#ff0000" stroke-width="1.0" />
<circle cx="84.5" cy="302.2" r="2.4" fill="#ff0000"/>
<line x1="100.98" y1="307.2" x2="100.98" y2="312.8" stroke="#ff0000" stroke-width="1.0" />
<line x1="99.68" y1="307.2" x2="102.28" y2="307.2" stroke="#ff0000" stroke-width="1.0" />
<line x1="99.68" y1="312.8" x2="102.28" y2="312.8" stroke="#ff0000" stroke-width="1.0" />
<circle cx="100.98" cy="310" r="2.4" fill="#ff0000"/>
<line x1="129.48" y1="320.2" x2="129.48" y2="325.2" stroke="#ff0000" stroke-width="1.0" />
<line x1="128.18" y1="320.2" x2="130.78" y2="320.2" stroke="#ff0000" stroke-width="1.0" />
<line x1="128.18" y1="325.2" x2="130.78" y2="325.2" stroke="#ff0000" stroke-width="1.0" />
<circle cx="129.48" cy="322.7" r="2.4" fill="#ff0000"/>
<line x1="195.04" y1="330.4" x2="195.04" y2="335.4" stroke="#ff0000" stroke-width="1.0" />
<line x1="193.74" y1="330.4" x2="196.34" y2="330.4" stroke="#ff0000" stroke-width="1.0" />
<line x1="193.74" y1="335.4" x2="196.34" y2="335.4" stroke="#ff0000" stroke-width="1.0" />
<circle cx="195.04" cy="332.9" r="2.4" fill="#ff0000"/>
<line x1="211.99" y1="335.3" x2="211.99" y2="340.3" stroke="#ff0000" stroke-width="1.0" />
<line x1="210.69" y1="335.3" x2="213.29" y2="335.3" stroke="#ff0000" stroke-width="1.0" />
<line x1="210.69" y1="340.3" x2="213.29" y2="340.3" stroke="#ff0000" stroke-width="1.0" />
<circle cx="211.99" cy="337.8" r="2.4" fill="#ff0000"/>
<path d="M50.63,227 L84.5,247.2 L100.98,256.7 L129.48,272.8 L195.04,285.1 L211.99,291.8" fill="none" stroke="#000" stroke-width="1.2" stroke-linejoin="round" stroke-dasharray="2.8,1.7"/>
<line x1="50.63" y1="222.8" x2="50.63" y2="231.2" stroke="#000" stroke-width="1.0" />
<line x1="49.33" y1="222.8" x2="51.93" y2="222.8" stroke="#000" stroke-width="1.0" />
<line x1="49.33" y1="231.2" x2="51.93" y2="231.2" stroke="#000" stroke-width="1.0" />
<rect x="48.53" y="224.9" width="4.2" height="4.2" fill="#000"/>
<line x1="84.5" y1="243.6" x2="84.5" y2="250.8" stroke="#000" stroke-width="1.0" />
<line x1="83.2" y1="243.6" x2="85.8" y2="243.6" stroke="#000" stroke-width="1.0" />
<line x1="83.2" y1="250.8" x2="85.8" y2="250.8" stroke="#000" stroke-width="1.0" />
<rect x="82.4" y="245.1" width="4.2" height="4.2" fill="#000"/>
<line x1="100.98" y1="255.7" x2="100.98" y2="257.7" stroke="#000" stroke-width="1.0" />
<line x1="99.68" y1="255.7" x2="102.28" y2="255.7" stroke="#000" stroke-width="1.0" />
<line x1="99.68" y1="257.7" x2="102.28" y2="257.7" stroke="#000" stroke-width="1.0" />
<rect x="98.88" y="254.6" width="4.2" height="4.2" fill="#000"/>
<line x1="129.48" y1="272.2" x2="129.48" y2="273.4" stroke="#000" stroke-width="1.0" />
<line x1="128.18" y1="272.2" x2="130.78" y2="272.2" stroke="#000" stroke-width="1.0" />
<line x1="128.18" y1="273.4" x2="130.78" y2="273.4" stroke="#000" stroke-width="1.0" />
<rect x="127.38" y="270.7" width="4.2" height="4.2" fill="#000"/>
<line x1="195.04" y1="284.5" x2="195.04" y2="285.7" stroke="#000" stroke-width="1.0" />
<line x1="193.74" y1="284.5" x2="196.34" y2="284.5" stroke="#000" stroke-width="1.0" />
<line x1="193.74" y1="285.7" x2="196.34" y2="285.7" stroke="#000" stroke-width="1.0" />
<rect x="192.94" y="283" width="4.2" height="4.2" fill="#000"/>
<line x1="211.99" y1="291.2" x2="211.99" y2="292.4" stroke="#000" stroke-width="1.0" />
<line x1="210.69" y1="291.2" x2="213.29" y2="291.2" stroke="#000" stroke-width="1.0" />
<line x1="210.69" y1="292.4" x2="213.29" y2="292.4" stroke="#000" stroke-width="1.0" />
<rect x="209.89" y="289.7" width="4.2" height="4.2" fill="#000"/>
<line x1="81" y1="254.4" x2="58.84" y2="254.4" stroke="#000" stroke-width="1.3" />
<path d="M53.4,254.4 L60.2,252.4 L60.2,256.4 Z" fill="#000"/>
<line x1="160.7" y1="322.7" x2="183.86" y2="322.7" stroke="#ff0000" stroke-width="1.3" />
<path d="M189.3,322.7 L182.5,320.7 L182.5,324.7 Z" fill="#ff0000"/>
<path d="M492.3,206 L305.5,206 L305.5,356.2 L492.3,356.2" fill="none" stroke="#000" stroke-width="1.1" stroke-linecap="square"/>
<line x1="492.3" y1="206" x2="492.3" y2="356.2" stroke="#ff0000" stroke-width="1.1" stroke-linecap="square"/>
<line x1="305.5" y1="344.65" x2="309.1" y2="344.65" stroke="#000" stroke-width="1.1" />
<text x="301.2" y="348.45" font-size="10.8" fill="#000" text-anchor="end" >8</text>
<line x1="305.5" y1="298.43" x2="309.1" y2="298.43" stroke="#000" stroke-width="1.1" />
<text x="301.2" y="302.23" font-size="10.8" fill="#000" text-anchor="end" >10</text>
<line x1="305.5" y1="252.22" x2="309.1" y2="252.22" stroke="#000" stroke-width="1.1" />
<text x="301.2" y="256.02" font-size="10.8" fill="#000" text-anchor="end" >12</text>
<line x1="305.5" y1="206" x2="309.1" y2="206" stroke="#000" stroke-width="1.1" />
<text x="301.2" y="209.8" font-size="10.8" fill="#000" text-anchor="end" >14</text>
<line x1="305.5" y1="321.54" x2="307.5" y2="321.54" stroke="#000" stroke-width="1.1" />
<line x1="305.5" y1="275.32" x2="307.5" y2="275.32" stroke="#000" stroke-width="1.1" />
<line x1="305.5" y1="229.11" x2="307.5" y2="229.11" stroke="#000" stroke-width="1.1" />
<line x1="488.7" y1="356.2" x2="492.3" y2="356.2" stroke="#ff0000" stroke-width="1.1" />
<text x="496.6" y="360" font-size="10.8" fill="#ff0000" text-anchor="start" >1.0</text>
<line x1="488.7" y1="318.65" x2="492.3" y2="318.65" stroke="#ff0000" stroke-width="1.1" />
<text x="496.6" y="322.45" font-size="10.8" fill="#ff0000" text-anchor="start" >1.2</text>
<line x1="488.7" y1="281.1" x2="492.3" y2="281.1" stroke="#ff0000" stroke-width="1.1" />
<text x="496.6" y="284.9" font-size="10.8" fill="#ff0000" text-anchor="start" >1.4</text>
<line x1="488.7" y1="243.55" x2="492.3" y2="243.55" stroke="#ff0000" stroke-width="1.1" />
<text x="496.6" y="247.35" font-size="10.8" fill="#ff0000" text-anchor="start" >1.6</text>
<line x1="488.7" y1="206" x2="492.3" y2="206" stroke="#ff0000" stroke-width="1.1" />
<text x="496.6" y="209.8" font-size="10.8" fill="#ff0000" text-anchor="start" >1.8</text>
<line x1="490.3" y1="337.42" x2="492.3" y2="337.42" stroke="#ff0000" stroke-width="1.1" />
<line x1="490.3" y1="299.88" x2="492.3" y2="299.88" stroke="#ff0000" stroke-width="1.1" />
<line x1="490.3" y1="262.32" x2="492.3" y2="262.32" stroke="#ff0000" stroke-width="1.1" />
<line x1="490.3" y1="224.78" x2="492.3" y2="224.78" stroke="#ff0000" stroke-width="1.1" />
<line x1="401" y1="356.2" x2="401" y2="352.8" stroke="#000" stroke-width="1.1" />
<line x1="319.69" y1="356.2" x2="319.69" y2="354.4" stroke="#000" stroke-width="1.1" />
<line x1="339.12" y1="356.2" x2="339.12" y2="354.4" stroke="#000" stroke-width="1.1" />
<line x1="354.19" y1="356.2" x2="354.19" y2="354.4" stroke="#000" stroke-width="1.1" />
<line x1="366.5" y1="356.2" x2="366.5" y2="354.4" stroke="#000" stroke-width="1.1" />
<line x1="376.91" y1="356.2" x2="376.91" y2="354.4" stroke="#000" stroke-width="1.1" />
<line x1="385.93" y1="356.2" x2="385.93" y2="354.4" stroke="#000" stroke-width="1.1" />
<line x1="393.88" y1="356.2" x2="393.88" y2="354.4" stroke="#000" stroke-width="1.1" />
<line x1="447.81" y1="356.2" x2="447.81" y2="354.4" stroke="#000" stroke-width="1.1" />
<line x1="475.19" y1="356.2" x2="475.19" y2="354.4" stroke="#000" stroke-width="1.1" />
<text x="354.19" y="368.6" font-size="10.8" fill="#000" text-anchor="middle" >5</text>
<text x="401" y="368.6" font-size="10.8" fill="#000" text-anchor="middle" >10</text>
<text x="447.81" y="368.6" font-size="10.8" fill="#000" text-anchor="middle" >20</text>
<text x="398.9" y="386.4" font-size="10.8" font-style="italic" text-anchor="middle">d/t</text>
<text transform="translate(283.4,281.2) rotate(-90)" x="0" y="0" font-size="10.8" fill="#000" text-anchor="middle"><tspan font-style="italic">&#949;</tspan><tspan font-size="7.3" font-style="italic" dy="3.0">r,exp</tspan></text>
<text transform="translate(523,281.2) rotate(-90)" x="0" y="0" font-size="10.8" fill="#ff0000" text-anchor="middle"><tspan font-style="italic">&#949;</tspan><tspan font-size="7.3" font-style="italic" dy="3.0">r,exp</tspan><tspan dy="-3.0" font-style="italic">/&#949;</tspan><tspan font-size="7.3" font-style="italic" dy="3.0">r,0</tspan></text>
<text x="265.2" y="206.6" font-size="10.2" font-weight="bold">e</text>
<text x="482.9" y="222.1" font-size="10.8" text-anchor="end">Al<tspan font-size="7.3" dy="3.0">2</tspan><tspan dy="-3.0">O</tspan><tspan font-size="7.3" dy="3.0">3</tspan><tspan dy="-3.0"> in air</tspan></text>
<path d="M319.69,278.9 L339.12,302.2 L366.5,315.6 L413.31,338.2 L432.74,338.4 L479.55,345.1" fill="none" stroke="#ff0000" stroke-width="1.2" stroke-linejoin="round" stroke-dasharray="2.8,1.7"/>
<line x1="319.69" y1="274" x2="319.69" y2="283.8" stroke="#ff0000" stroke-width="1.0" />
<line x1="318.39" y1="274" x2="320.99" y2="274" stroke="#ff0000" stroke-width="1.0" />
<line x1="318.39" y1="283.8" x2="320.99" y2="283.8" stroke="#ff0000" stroke-width="1.0" />
<circle cx="319.69" cy="278.9" r="2.4" fill="#ff0000"/>
<line x1="339.12" y1="294.4" x2="339.12" y2="310" stroke="#ff0000" stroke-width="1.0" />
<line x1="337.82" y1="294.4" x2="340.42" y2="294.4" stroke="#ff0000" stroke-width="1.0" />
<line x1="337.82" y1="310" x2="340.42" y2="310" stroke="#ff0000" stroke-width="1.0" />
<circle cx="339.12" cy="302.2" r="2.4" fill="#ff0000"/>
<line x1="366.5" y1="308.7" x2="366.5" y2="322.5" stroke="#ff0000" stroke-width="1.0" />
<line x1="365.2" y1="308.7" x2="367.8" y2="308.7" stroke="#ff0000" stroke-width="1.0" />
<line x1="365.2" y1="322.5" x2="367.8" y2="322.5" stroke="#ff0000" stroke-width="1.0" />
<circle cx="366.5" cy="315.6" r="2.4" fill="#ff0000"/>
<line x1="413.31" y1="333" x2="413.31" y2="343.4" stroke="#ff0000" stroke-width="1.0" />
<line x1="412.01" y1="333" x2="414.61" y2="333" stroke="#ff0000" stroke-width="1.0" />
<line x1="412.01" y1="343.4" x2="414.61" y2="343.4" stroke="#ff0000" stroke-width="1.0" />
<circle cx="413.31" cy="338.2" r="2.4" fill="#ff0000"/>
<line x1="432.74" y1="335.4" x2="432.74" y2="341.4" stroke="#ff0000" stroke-width="1.0" />
<line x1="431.44" y1="335.4" x2="434.04" y2="335.4" stroke="#ff0000" stroke-width="1.0" />
<line x1="431.44" y1="341.4" x2="434.04" y2="341.4" stroke="#ff0000" stroke-width="1.0" />
<circle cx="432.74" cy="338.4" r="2.4" fill="#ff0000"/>
<line x1="479.55" y1="342.3" x2="479.55" y2="347.9" stroke="#ff0000" stroke-width="1.0" />
<line x1="478.25" y1="342.3" x2="480.85" y2="342.3" stroke="#ff0000" stroke-width="1.0" />
<line x1="478.25" y1="347.9" x2="480.85" y2="347.9" stroke="#ff0000" stroke-width="1.0" />
<circle cx="479.55" cy="345.1" r="2.4" fill="#ff0000"/>
<path d="M319.69,219.4 L339.12,246.1 L366.5,262.3 L413.31,288.8 L432.74,289 L479.55,296.5" fill="none" stroke="#000" stroke-width="1.2" stroke-linejoin="round" stroke-dasharray="2.8,1.7"/>
<line x1="319.69" y1="214.4" x2="319.69" y2="224.4" stroke="#000" stroke-width="1.0" />
<line x1="318.39" y1="214.4" x2="320.99" y2="214.4" stroke="#000" stroke-width="1.0" />
<line x1="318.39" y1="224.4" x2="320.99" y2="224.4" stroke="#000" stroke-width="1.0" />
<rect x="317.59" y="217.3" width="4.2" height="4.2" fill="#000"/>
<line x1="339.12" y1="237.1" x2="339.12" y2="255.1" stroke="#000" stroke-width="1.0" />
<line x1="337.82" y1="237.1" x2="340.42" y2="237.1" stroke="#000" stroke-width="1.0" />
<line x1="337.82" y1="255.1" x2="340.42" y2="255.1" stroke="#000" stroke-width="1.0" />
<rect x="337.02" y="244" width="4.2" height="4.2" fill="#000"/>
<line x1="366.5" y1="254.3" x2="366.5" y2="270.3" stroke="#000" stroke-width="1.0" />
<line x1="365.2" y1="254.3" x2="367.8" y2="254.3" stroke="#000" stroke-width="1.0" />
<line x1="365.2" y1="270.3" x2="367.8" y2="270.3" stroke="#000" stroke-width="1.0" />
<rect x="364.4" y="260.2" width="4.2" height="4.2" fill="#000"/>
<line x1="413.31" y1="282.5" x2="413.31" y2="295.1" stroke="#000" stroke-width="1.0" />
<line x1="412.01" y1="282.5" x2="414.61" y2="282.5" stroke="#000" stroke-width="1.0" />
<line x1="412.01" y1="295.1" x2="414.61" y2="295.1" stroke="#000" stroke-width="1.0" />
<rect x="411.21" y="286.7" width="4.2" height="4.2" fill="#000"/>
<line x1="432.74" y1="286" x2="432.74" y2="292" stroke="#000" stroke-width="1.0" />
<line x1="431.44" y1="286" x2="434.04" y2="286" stroke="#000" stroke-width="1.0" />
<line x1="431.44" y1="292" x2="434.04" y2="292" stroke="#000" stroke-width="1.0" />
<rect x="430.64" y="286.9" width="4.2" height="4.2" fill="#000"/>
<line x1="479.55" y1="293.7" x2="479.55" y2="299.3" stroke="#000" stroke-width="1.0" />
<line x1="478.25" y1="293.7" x2="480.85" y2="293.7" stroke="#000" stroke-width="1.0" />
<line x1="478.25" y1="299.3" x2="480.85" y2="299.3" stroke="#000" stroke-width="1.0" />
<rect x="477.45" y="294.4" width="4.2" height="4.2" fill="#000"/>
<line x1="351.6" y1="261.7" x2="326.84" y2="261.7" stroke="#000" stroke-width="1.3" />
<path d="M321.4,261.7 L328.2,259.7 L328.2,263.7 Z" fill="#000"/>
<line x1="437.3" y1="325.6" x2="462.06" y2="325.6" stroke="#ff0000" stroke-width="1.3" />
<path d="M467.5,325.6 L460.7,323.6 L460.7,327.6 Z" fill="#ff0000"/>
<path d="M760.2,206 L573.2,206 L573.2,356.2 L760.2,356.2" fill="none" stroke="#000" stroke-width="1.1" stroke-linecap="square"/>
<line x1="760.2" y1="206" x2="760.2" y2="356.2" stroke="#ff0000" stroke-width="1.1" stroke-linecap="square"/>
<line x1="573.2" y1="356.2" x2="576.8" y2="356.2" stroke="#000" stroke-width="1.1" />
<text x="568.9" y="360" font-size="10.8" fill="#000" text-anchor="end" >2.1</text>
<line x1="573.2" y1="306.13" x2="576.8" y2="306.13" stroke="#000" stroke-width="1.1" />
<text x="568.9" y="309.93" font-size="10.8" fill="#000" text-anchor="end" >2.2</text>
<line x1="573.2" y1="256.07" x2="576.8" y2="256.07" stroke="#000" stroke-width="1.1" />
<text x="568.9" y="259.87" font-size="10.8" fill="#000" text-anchor="end" >2.3</text>
<line x1="573.2" y1="206" x2="576.8" y2="206" stroke="#000" stroke-width="1.1" />
<text x="568.9" y="209.8" font-size="10.8" fill="#000" text-anchor="end" >2.4</text>
<line x1="573.2" y1="331.17" x2="575.2" y2="331.17" stroke="#000" stroke-width="1.1" />
<line x1="573.2" y1="281.1" x2="575.2" y2="281.1" stroke="#000" stroke-width="1.1" />
<line x1="573.2" y1="231.03" x2="575.2" y2="231.03" stroke="#000" stroke-width="1.1" />
<line x1="756.6" y1="342.55" x2="760.2" y2="342.55" stroke="#ff0000" stroke-width="1.1" />
<text x="764.5" y="346.35" font-size="10.8" fill="#ff0000" text-anchor="start" >1.00</text>
<line x1="756.6" y1="315.24" x2="760.2" y2="315.24" stroke="#ff0000" stroke-width="1.1" />
<text x="764.5" y="319.04" font-size="10.8" fill="#ff0000" text-anchor="start" >1.02</text>
<line x1="756.6" y1="287.93" x2="760.2" y2="287.93" stroke="#ff0000" stroke-width="1.1" />
<text x="764.5" y="291.73" font-size="10.8" fill="#ff0000" text-anchor="start" >1.04</text>
<line x1="756.6" y1="260.62" x2="760.2" y2="260.62" stroke="#ff0000" stroke-width="1.1" />
<text x="764.5" y="264.42" font-size="10.8" fill="#ff0000" text-anchor="start" >1.06</text>
<line x1="756.6" y1="233.31" x2="760.2" y2="233.31" stroke="#ff0000" stroke-width="1.1" />
<text x="764.5" y="237.11" font-size="10.8" fill="#ff0000" text-anchor="start" >1.08</text>
<line x1="756.6" y1="206" x2="760.2" y2="206" stroke="#ff0000" stroke-width="1.1" />
<text x="764.5" y="209.8" font-size="10.8" fill="#ff0000" text-anchor="start" >1.10</text>
<line x1="758.2" y1="356.2" x2="760.2" y2="356.2" stroke="#ff0000" stroke-width="1.1" />
<line x1="758.2" y1="328.89" x2="760.2" y2="328.89" stroke="#ff0000" stroke-width="1.1" />
<line x1="758.2" y1="301.58" x2="760.2" y2="301.58" stroke="#ff0000" stroke-width="1.1" />
<line x1="758.2" y1="274.27" x2="760.2" y2="274.27" stroke="#ff0000" stroke-width="1.1" />
<line x1="758.2" y1="246.96" x2="760.2" y2="246.96" stroke="#ff0000" stroke-width="1.1" />
<line x1="758.2" y1="219.65" x2="760.2" y2="219.65" stroke="#ff0000" stroke-width="1.1" />
<line x1="659.5" y1="356.2" x2="659.5" y2="352.8" stroke="#000" stroke-width="1.1" />
<line x1="590.02" y1="356.2" x2="590.02" y2="354.4" stroke="#000" stroke-width="1.1" />
<line x1="606.94" y1="356.2" x2="606.94" y2="354.4" stroke="#000" stroke-width="1.1" />
<line x1="620.77" y1="356.2" x2="620.77" y2="354.4" stroke="#000" stroke-width="1.1" />
<line x1="632.45" y1="356.2" x2="632.45" y2="354.4" stroke="#000" stroke-width="1.1" />
<line x1="642.58" y1="356.2" x2="642.58" y2="354.4" stroke="#000" stroke-width="1.1" />
<line x1="651.51" y1="356.2" x2="651.51" y2="354.4" stroke="#000" stroke-width="1.1" />
<line x1="712.06" y1="356.2" x2="712.06" y2="354.4" stroke="#000" stroke-width="1.1" />
<line x1="742.81" y1="356.2" x2="742.81" y2="354.4" stroke="#000" stroke-width="1.1" />
<text x="606.94" y="368.6" font-size="10.8" fill="#000" text-anchor="middle" >500</text>
<text x="659.5" y="368.6" font-size="10.8" fill="#000" text-anchor="middle" >1000</text>
<text x="712.06" y="368.6" font-size="10.8" fill="#000" text-anchor="middle" >2000</text>
<text x="666.7" y="386.4" font-size="10.8" font-style="italic" text-anchor="middle">d/t</text>
<text transform="translate(548,281.2) rotate(-90)" x="0" y="0" font-size="10.8" fill="#000" text-anchor="middle"><tspan font-style="italic">&#949;</tspan><tspan font-size="7.3" font-style="italic" dy="3.0">r,exp</tspan></text>
<text transform="translate(793,281.2) rotate(-90)" x="0" y="0" font-size="10.8" fill="#ff0000" text-anchor="middle"><tspan font-style="italic">&#949;</tspan><tspan font-size="7.3" font-style="italic" dy="3.0">r,exp</tspan><tspan dy="-3.0" font-style="italic">/&#949;</tspan><tspan font-size="7.3" font-style="italic" dy="3.0">r,0</tspan></text>
<text x="534.8" y="208" font-size="10.2" font-weight="bold">f</text>
<text x="694.6" y="221.6" font-size="11.1" fill="#000" text-anchor="start" >BOPP in air</text>
<path d="M587.12,278.9 L608.89,294 L639.58,304 L661.45,322.7 L678.34,339.8 L747.82,341.1" fill="none" stroke="#ff0000" stroke-width="1.2" stroke-linejoin="round" stroke-dasharray="2.8,1.7"/>
<line x1="587.12" y1="270" x2="587.12" y2="287.8" stroke="#ff0000" stroke-width="1.0" />
<line x1="585.82" y1="270" x2="588.42" y2="270" stroke="#ff0000" stroke-width="1.0" />
<line x1="585.82" y1="287.8" x2="588.42" y2="287.8" stroke="#ff0000" stroke-width="1.0" />
<circle cx="587.12" cy="278.9" r="2.4" fill="#ff0000"/>
<line x1="608.89" y1="289.4" x2="608.89" y2="298.6" stroke="#ff0000" stroke-width="1.0" />
<line x1="607.59" y1="289.4" x2="610.19" y2="289.4" stroke="#ff0000" stroke-width="1.0" />
<line x1="607.59" y1="298.6" x2="610.19" y2="298.6" stroke="#ff0000" stroke-width="1.0" />
<circle cx="608.89" cy="294" r="2.4" fill="#ff0000"/>
<line x1="639.58" y1="294.2" x2="639.58" y2="313.8" stroke="#ff0000" stroke-width="1.0" />
<line x1="638.28" y1="294.2" x2="640.88" y2="294.2" stroke="#ff0000" stroke-width="1.0" />
<line x1="638.28" y1="313.8" x2="640.88" y2="313.8" stroke="#ff0000" stroke-width="1.0" />
<circle cx="639.58" cy="304" r="2.4" fill="#ff0000"/>
<line x1="661.45" y1="320.2" x2="661.45" y2="325.2" stroke="#ff0000" stroke-width="1.0" />
<line x1="660.15" y1="320.2" x2="662.75" y2="320.2" stroke="#ff0000" stroke-width="1.0" />
<line x1="660.15" y1="325.2" x2="662.75" y2="325.2" stroke="#ff0000" stroke-width="1.0" />
<circle cx="661.45" cy="322.7" r="2.4" fill="#ff0000"/>
<line x1="678.34" y1="337.3" x2="678.34" y2="342.3" stroke="#ff0000" stroke-width="1.0" />
<line x1="677.04" y1="337.3" x2="679.64" y2="337.3" stroke="#ff0000" stroke-width="1.0" />
<line x1="677.04" y1="342.3" x2="679.64" y2="342.3" stroke="#ff0000" stroke-width="1.0" />
<circle cx="678.34" cy="339.8" r="2.4" fill="#ff0000"/>
<line x1="747.82" y1="338.6" x2="747.82" y2="343.6" stroke="#ff0000" stroke-width="1.0" />
<line x1="746.52" y1="338.6" x2="749.12" y2="338.6" stroke="#ff0000" stroke-width="1.0" />
<line x1="746.52" y1="343.6" x2="749.12" y2="343.6" stroke="#ff0000" stroke-width="1.0" />
<circle cx="747.82" cy="341.1" r="2.4" fill="#ff0000"/>
<path d="M587.12,228.8 L608.89,241.2 L639.58,249.5 L661.45,264.6 L678.34,278.6 L747.82,279.7" fill="none" stroke="#000" stroke-width="1.2" stroke-linejoin="round" stroke-dasharray="2.8,1.7"/>
<line x1="587.12" y1="221.3" x2="587.12" y2="236.3" stroke="#000" stroke-width="1.0" />
<line x1="585.82" y1="221.3" x2="588.42" y2="221.3" stroke="#000" stroke-width="1.0" />
<line x1="585.82" y1="236.3" x2="588.42" y2="236.3" stroke="#000" stroke-width="1.0" />
<rect x="585.02" y="226.7" width="4.2" height="4.2" fill="#000"/>
<line x1="608.89" y1="237.3" x2="608.89" y2="245.1" stroke="#000" stroke-width="1.0" />
<line x1="607.59" y1="237.3" x2="610.19" y2="237.3" stroke="#000" stroke-width="1.0" />
<line x1="607.59" y1="245.1" x2="610.19" y2="245.1" stroke="#000" stroke-width="1.0" />
<rect x="606.79" y="239.1" width="4.2" height="4.2" fill="#000"/>
<line x1="639.58" y1="241.5" x2="639.58" y2="257.5" stroke="#000" stroke-width="1.0" />
<line x1="638.28" y1="241.5" x2="640.88" y2="241.5" stroke="#000" stroke-width="1.0" />
<line x1="638.28" y1="257.5" x2="640.88" y2="257.5" stroke="#000" stroke-width="1.0" />
<rect x="637.48" y="247.4" width="4.2" height="4.2" fill="#000"/>
<line x1="661.45" y1="263.8" x2="661.45" y2="265.4" stroke="#000" stroke-width="1.0" />
<line x1="660.15" y1="263.8" x2="662.75" y2="263.8" stroke="#000" stroke-width="1.0" />
<line x1="660.15" y1="265.4" x2="662.75" y2="265.4" stroke="#000" stroke-width="1.0" />
<rect x="659.35" y="262.5" width="4.2" height="4.2" fill="#000"/>
<line x1="678.34" y1="278" x2="678.34" y2="279.2" stroke="#000" stroke-width="1.0" />
<line x1="677.04" y1="278" x2="679.64" y2="278" stroke="#000" stroke-width="1.0" />
<line x1="677.04" y1="279.2" x2="679.64" y2="279.2" stroke="#000" stroke-width="1.0" />
<rect x="676.24" y="276.5" width="4.2" height="4.2" fill="#000"/>
<line x1="747.82" y1="279.1" x2="747.82" y2="280.3" stroke="#000" stroke-width="1.0" />
<line x1="746.52" y1="279.1" x2="749.12" y2="279.1" stroke="#000" stroke-width="1.0" />
<line x1="746.52" y1="280.3" x2="749.12" y2="280.3" stroke="#000" stroke-width="1.0" />
<rect x="745.72" y="277.6" width="4.2" height="4.2" fill="#000"/>
<line x1="616.7" y1="256.1" x2="593.44" y2="256.1" stroke="#000" stroke-width="1.3" />
<path d="M588,256.1 L594.8,254.1 L594.8,258.1 Z" fill="#000"/>
<line x1="703.8" y1="324" x2="727.86" y2="324" stroke="#ff0000" stroke-width="1.3" />
<path d="M733.3,324 L726.5,322 L726.5,326 Z" fill="#ff0000"/>
</svg>
</body></html>
